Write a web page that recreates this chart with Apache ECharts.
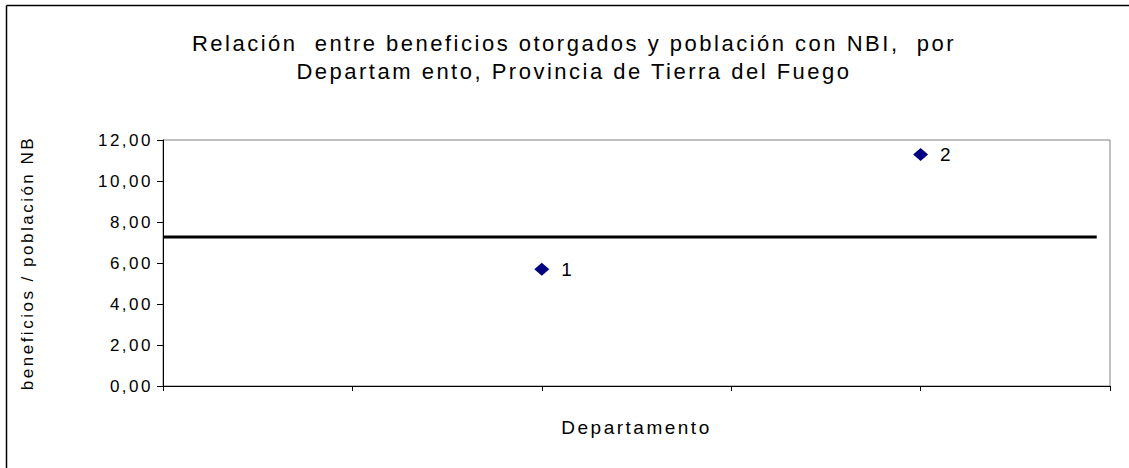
<!DOCTYPE html>
<html>
<head>
<meta charset="utf-8">
<script src="https://cdn.jsdelivr.net/npm/echarts@6/dist/echarts.min.js"></script>
<style>
html,body{margin:0;padding:0;background:#fff}
#c{width:1129px;height:468px}
#c svg text{letter-spacing:2.5px}
</style>
</head>
<body>
<div id="c"></div>
<script>
var titleLines = ['Relación  entre beneficios otorgados y población con NBI,  por', 'Departam ento, Provincia de Tierra del Fuego'];
var yTicks = [0, 2, 4, 6, 8, 10, 12];
var pointNames = ['1', '2'];
var pointX = [2, 4];
var pointY = [5.69, 11.29];
var refValue = 7.27;
var refX = [0, 4.93];

var chart = echarts.init(document.getElementById('c'), null, { renderer: 'svg' });
var font = '"Liberation Sans", Arial, sans-serif';
chart.setOption({
  animation: false,
  backgroundColor: '#fff',
  title: {
    text: titleLines.join('\n'),
    left: 569, top: 24, textAlign: 'center',
    textStyle: { fontFamily: font, fontSize: 22, fontWeight: 'normal', color: '#000', lineHeight: 28 }
  },
  grid: { left: 163, right: 19, top: 140, bottom: 82, show: true, borderColor: '#808080', borderWidth: 1, backgroundColor: '#fff' },
  xAxis: {
    type: 'value', min: 0, max: 5, interval: 1,
    name: 'Departamento', nameLocation: 'middle', nameGap: 32,
    nameTextStyle: { fontFamily: font, fontSize: 19, color: '#000' },
    axisLine: { show: true, lineStyle: { color: '#000', width: 1 } },
    axisTick: { show: true, length: 5, lineStyle: { color: '#000' } },
    axisLabel: { show: false },
    splitLine: { show: false }
  },
  yAxis: {
    type: 'value', min: yTicks[0], max: yTicks[yTicks.length - 1], interval: 2,
    name: 'beneficios / población NB', nameLocation: 'middle', nameGap: 127,
    nameTextStyle: { fontFamily: font, fontSize: 17, color: '#000' },
    axisLine: { show: true, lineStyle: { color: '#000', width: 1 } },
    axisTick: { show: true, length: 6, lineStyle: { color: '#000' } },
    axisLabel: { fontFamily: font, fontSize: 17, color: '#000', margin: 10,
      formatter: function (v) { return v.toFixed(2).replace('.', ','); } },
    splitLine: { show: false }
  },
  series: [
    {
      type: 'line', silent: true, symbol: 'none',
      lineStyle: { color: '#000', width: 3 },
      data: refX.map(function (x) { return [x, refValue]; }),
      z: 2
    },
    {
      type: 'scatter', symbol: 'diamond', symbolSize: [15, 13],
      itemStyle: { color: '#000080', opacity: 1 },
      label: { show: true, position: 'right', distance: 12, fontFamily: font, fontSize: 19, color: '#000',
        formatter: function (p) { return p.name; } },
      data: pointX.map(function (x, i) { return { name: pointNames[i], value: [x, pointY[i]] }; }),
      z: 3
    }
  ],
  graphic: [
    { type: 'line', shape: { x1: 6.5, y1: 5.5, x2: 1129, y2: 5.5 }, style: { stroke: '#000', lineWidth: 1.5 } },
    { type: 'line', shape: { x1: 6.5, y1: 5.5, x2: 6.5, y2: 468 }, style: { stroke: '#000', lineWidth: 1.5 } }
  ]
});
</script>
</body>
</html>
